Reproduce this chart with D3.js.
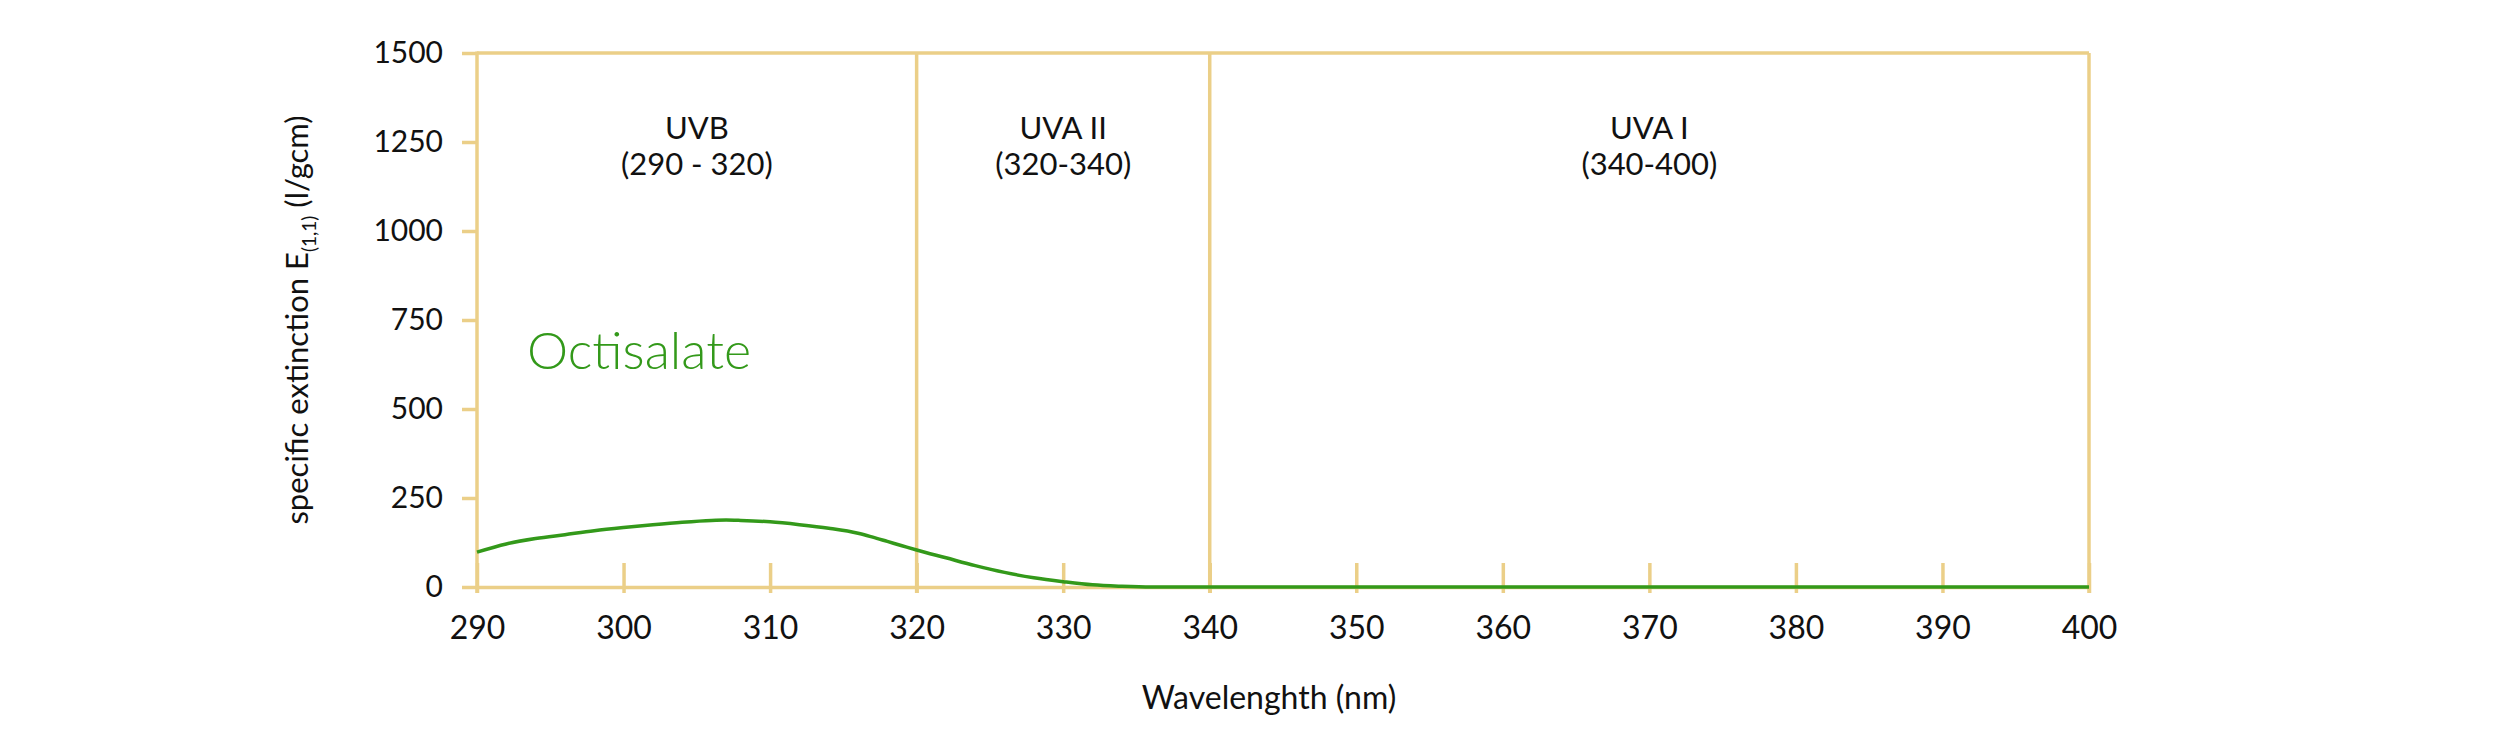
<!DOCTYPE html>
<html>
<head>
<meta charset="utf-8">
<script src="https://cdn.jsdelivr.net/npm/d3@7"></script>
<style>
  html, body { margin: 0; padding: 0; background: #ffffff; }
  svg { display: block; font-family: "Lato", "Open Sans", sans-serif; }
</style>
</head>
<body>
<svg id="chart" width="2500" height="734"></svg>
<script>
// ---- data ----
const wavelengths = [290, 292, 294, 296, 298, 300, 302, 304, 306, 307, 308, 310, 312, 314, 316, 317, 318, 319, 320, 322, 324, 326, 328, 330, 332, 334, 336, 340, 350, 360, 370, 380, 390, 400];
const extinction  = [98, 121, 136, 147, 158, 167, 175, 182, 187, 188, 187, 183, 175, 165, 151, 140, 128, 116, 104, 82, 60, 41, 26, 15, 6, 2, 0, 0, 0, 0, 0, 0, 0, 0];
const xTicks = [290, 300, 310, 320, 330, 340, 350, 360, 370, 380, 390, 400];
const yTicks = [0, 250, 500, 750, 1000, 1250, 1500];
const fullLines = [320, 340, 400];
const regionNames = ["UVB", "UVA II", "UVA I"];
const regionRanges = ["(290 - 320)", "(320-340)", "(340-400)"];
const regionStarts = [290, 320, 340];
const regionEnds = [320, 340, 400];
const seriesName = "Octisalate";

// ---- layout ----
const gold = "#ebcf88";
const green = "#33991a";
const margin = { left: 477, top: 53, right: 411, bottom: 147 };
const W = 2500, H = 734;
const iw = W - margin.left - margin.right;
const ih = H - margin.top - margin.bottom;

const svg = d3.select("#chart");
const g = svg.append("g").attr("transform", `translate(${margin.left},${margin.top})`);

const x = d3.scaleLinear().domain([290, 400]).range([0, iw]);
const y = d3.scaleLinear().domain([0, 1500]).range([ih, 0]);

// top border
g.append("line").attr("x1", x(290)).attr("x2", x(400)).attr("y1", y(1500)).attr("y2", y(1500))
  .attr("stroke", gold).attr("stroke-width", 3.5);

// full-height vertical lines
g.selectAll("line.full").data(fullLines).join("line").attr("class", "full")
  .attr("x1", d => x(d)).attr("x2", d => x(d))
  .attr("y1", y(1500)).attr("y2", ih + 6)
  .attr("stroke", gold).attr("stroke-width", 3.5);

// y axis
const yAxis = g.append("g").call(d3.axisLeft(y).tickValues(yTicks).tickFormat(d3.format("d"))
  .tickSize(15).tickPadding(19).tickSizeOuter(0));
yAxis.select(".domain").remove();
yAxis.selectAll(".tick line").attr("stroke", gold).attr("stroke-width", 3.5);
yAxis.selectAll(".tick text").attr("font-size", 30).attr("fill", "#111").attr("font-family", "Lato, sans-serif");
g.append("line").attr("x1", 0).attr("x2", 0).attr("y1", y(1500) - 1.5).attr("y2", ih + 6)
  .attr("stroke", gold).attr("stroke-width", 3.5);

// x axis
const xAxis = g.append("g").attr("transform", `translate(0,${ih})`)
  .call(d3.axisBottom(x).tickValues(xTicks).tickFormat(d3.format("d")).tickSize(-24).tickPadding(29).tickSizeOuter(0));
xAxis.select(".domain").attr("stroke", gold).attr("stroke-width", 3.5);
xAxis.selectAll(".tick line").attr("stroke", gold).attr("stroke-width", 3.5).attr("y2", -24).attr("y1", 6);
xAxis.selectAll(".tick text").attr("font-size", 32).attr("fill", "#111").attr("font-family", "Lato, sans-serif");

// region labels
const regions = regionNames.map((n, i) => ({ name: n, range: regionRanges[i], mid: (regionStarts[i] + regionEnds[i]) / 2 }));
const rl = g.selectAll("text.region").data(regions).join("text").attr("class", "region")
  .attr("text-anchor", "middle").attr("font-size", 31).attr("fill", "#111");
rl.append("tspan").attr("x", d => x(d.mid)).attr("y", 86).text(d => d.name);
rl.append("tspan").attr("x", d => x(d.mid)).attr("y", 122).text(d => d.range);

// curve
const pts = wavelengths.map((w, i) => ({ w, v: extinction[i] }));
g.append("path").datum(pts)
  .attr("fill", "none").attr("stroke", green).attr("stroke-width", 3.5)
  .attr("d", d3.line().x(d => x(d.w)).y(d => y(d.v)).curve(d3.curveMonotoneX));

// series label
g.append("text").attr("x", 50).attr("y", 316).attr("font-size", 52).attr("font-weight", 300)
  .attr("fill", green).text(seriesName);

// axis titles
svg.append("text").attr("x", margin.left + iw / 2 - 14).attr("y", 709).attr("text-anchor", "middle")
  .attr("font-size", 32).attr("fill", "#111").text("Wavelenghth (nm)");

const yt = svg.append("text").attr("transform", `translate(308, ${margin.top + ih / 2}) rotate(-90)`)
  .attr("text-anchor", "middle").attr("font-size", 31).attr("fill", "#111");
yt.append("tspan").text("specific extinction E");
yt.append("tspan").attr("font-size", 19).attr("dy", 8).text("(1,1)");
yt.append("tspan").attr("dy", -8).text(" (l/gcm)");
</script>
</body>
</html>
